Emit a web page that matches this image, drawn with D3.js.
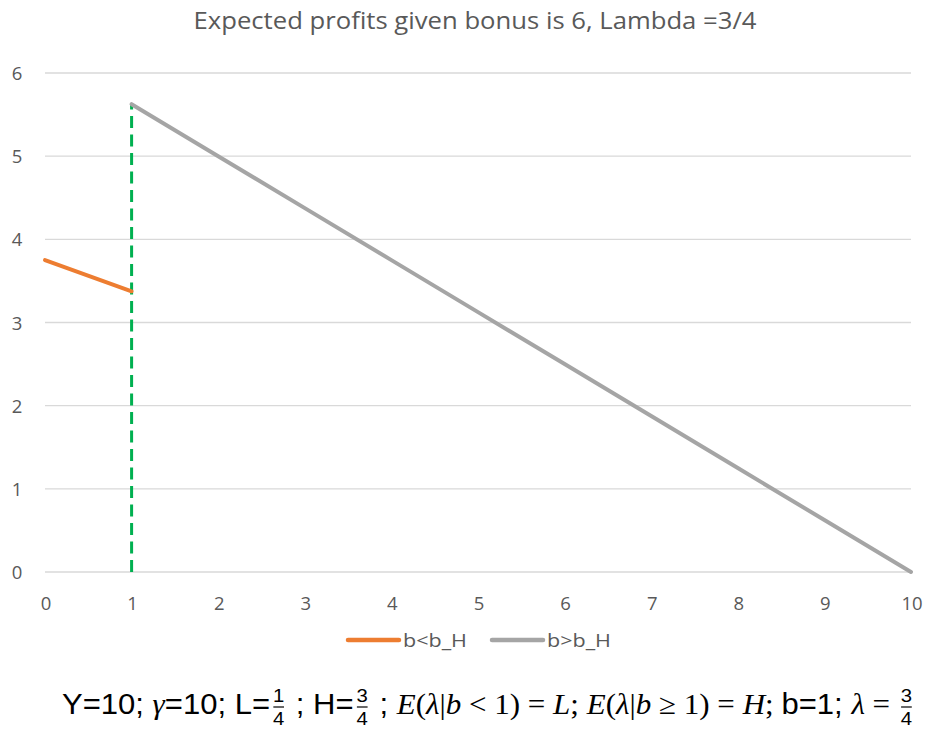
<!DOCTYPE html>
<html><head><meta charset="utf-8">
<script src="https://cdn.jsdelivr.net/npm/d3@7"></script>
<style>body{margin:0;background:#fff}</style>
</head><body><svg id="c" width="927" height="729"></svg>
<script>
const title = "Expected profits given bonus is 6, Lambda =3/4";
const xTicks = [0,1,2,3,4,5,6,7,8,9,10];
const yTicks = [0,1,2,3,4,5,6];
const lowX = [0, 1];
const lowY = [3.75, 3.375];
const highX = [1,2,3,4,5,6,7,8,9,10];
const highY = [5.625,5,4.375,3.75,3.125,2.5,1.875,1.25,0.625,0];
const cutX = [1, 1];
const cutY = [0, 5.625];
const seriesNames = ["b<b_H", "b>b_H"];

const svg = d3.select("#c");
const x = d3.scaleLinear().domain([0,10]).range([45,911]);
const y = d3.scaleLinear().domain([0,6]).range([572,73]);
const font = "'Open Sans', 'Noto Sans', sans-serif";

const tt = svg.append("text").attr("x",475).attr("y",29).attr("text-anchor","middle")
  .attr("font-family",font).attr("font-size",24).attr("fill","#595959").text(title);
tt.attr("textLength",563).attr("lengthAdjust","spacingAndGlyphs");

// grid
svg.append("g").selectAll("line").data(yTicks).join("line")
  .attr("x1",x(0)).attr("x2",x(10)).attr("y1",d=>y(d)).attr("y2",d=>y(d))
  .attr("stroke","#d9d9d9").attr("stroke-width",1.3);
svg.append("g").selectAll("text").data(yTicks).join("text")
  .attr("x",17).attr("y",d=>y(d)+7).attr("text-anchor","middle")
  .attr("font-family",font).attr("font-size",18.5).attr("fill","#595959").text(d=>d);
svg.append("g").selectAll("text").data(xTicks).join("text")
  .attr("x",d=>x(d)+1).attr("y",610).attr("text-anchor","middle")
  .attr("font-family",font).attr("font-size",18.5).attr("fill","#595959").text(d=>d);

const line = d3.line().x(d=>x(d[0])).y(d=>y(d[1]));
svg.append("path").datum(cutX.map((v,i)=>[v,cutY[i]])).attr("d",line)
  .attr("fill","none").attr("stroke","#00b050").attr("stroke-width",3).attr("stroke-dasharray","12,6.5");
svg.append("path").datum(lowX.map((v,i)=>[v,lowY[i]])).attr("d",line)
  .attr("fill","none").attr("stroke","#ed7d31").attr("stroke-width",4).attr("stroke-linecap","round");
svg.append("path").datum(highX.map((v,i)=>[v,highY[i]])).attr("d",line)
  .attr("fill","none").attr("stroke","#a5a5a5").attr("stroke-width",4).attr("stroke-linecap","round");

// legend
const leg = [{n:seriesNames[0],c:"#ed7d31",x:348,tx:403},{n:seriesNames[1],c:"#a5a5a5",x:492,tx:547}];
leg.forEach(l=>{
  svg.append("line").attr("x1",l.x).attr("x2",l.x+51).attr("y1",640).attr("y2",640)
    .attr("stroke",l.c).attr("stroke-width",4.5).attr("stroke-linecap","round");
  svg.append("text").attr("x",l.tx).attr("y",647).attr("font-family",font)
    .attr("font-size",18).attr("fill","#595959").attr("textLength",64)
    .attr("lengthAdjust","spacingAndGlyphs").text(l.n);
});

// formula
const g = svg.append("g");
const sans = "'Liberation Sans Narrow', 'Liberation Sans', 'Noto Sans', sans-serif";
const serif = "'Liberation Serif', 'DejaVu Serif', serif";
const parts = [
  {t:"Y=10; ",f:sans},{t:"γ",f:serif,i:true},{t:"=10; L=",f:sans},{frac:["1","4"]},
  {t:" ; H=",f:sans},{frac:["3","4"]},{t:" ; ",f:sans},
  {t:"E",f:serif,i:true},{t:"(",f:serif},{t:"λ",f:serif,i:true},{t:"|",f:serif},{t:"b",f:serif,i:true},
  {t:" < 1) = ",f:serif},{t:"L",f:serif,i:true},{t:"; ",f:serif},
  {t:"E",f:serif,i:true},{t:"(",f:serif},{t:"λ",f:serif,i:true},{t:"|",f:serif},{t:"b",f:serif,i:true},
  {t:" ≥ 1) = ",f:serif},{t:"H",f:serif,i:true},{t:"; ",f:serif},{t:"b=1; ",f:sans},{t:"λ",f:serif,i:true},
  {t:" = ",f:serif},{frac:["3","4"]}
];
let cx = 0; const base = 714, fs = 29;
parts.forEach(p=>{
  if (p.frac) {
    const w = 16;
    g.append("text").attr("x",cx+w/2).attr("y",base-12).attr("text-anchor","middle")
      .attr("font-family",sans).attr("font-size",19).attr("fill","#000").text(p.frac[0]);
    g.append("line").attr("x1",cx+3).attr("x2",cx+w-3).attr("y1",base-7).attr("y2",base-7)
      .attr("stroke","#000").attr("stroke-width",1.2);
    g.append("text").attr("x",cx+w/2).attr("y",base+11).attr("text-anchor","middle")
      .attr("font-family",sans).attr("font-size",19).attr("fill","#000").text(p.frac[1]);
    cx += w;
  } else {
    const t = g.append("text").attr("x",cx).attr("y",base).attr("font-family",p.f)
      .attr("font-size",fs).attr("fill","#000").attr("xml:space","preserve")
      .style("white-space","pre").text(p.t);
    if (p.i) t.attr("font-style","italic");
    cx += t.node().getComputedTextLength();
  }
});
const target = 915 - 62;
const s = target / cx;
g.attr("transform",`translate(62,${base}) scale(${s},1) translate(0,${-base})`);
</script></body></html>
